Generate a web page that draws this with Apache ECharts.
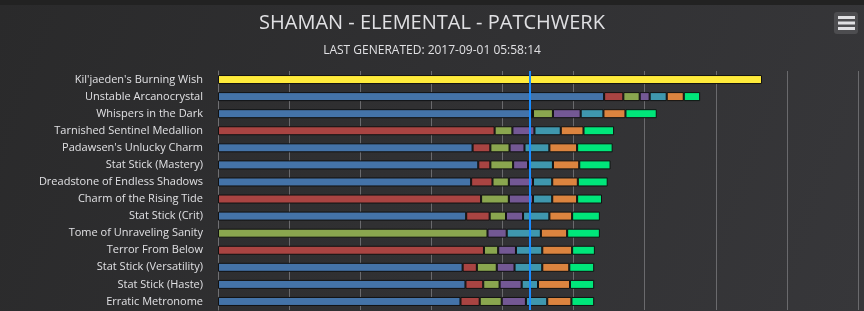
<!DOCTYPE html>
<html lang="en">

<head>
  <meta charset="UTF-8" />
  <title>Shaman - Elemental - Patchwerk</title>
  <style>
    * {
      padding: 0;
      margin: 0;
    }

    html,
    body {
      width: 100%;
      height: 100%;
      background: #2a2a2b;
    }

    #chart {
      width: 864px;
      height: 311px;
    }
  </style>
</head>

<body>
  <div id="chart"></div>
  <script src="https://cdn.jsdelivr.net/npm/echarts@6/dist/echarts.min.js"></script>
  <script>
    // trinkets, top to bottom
    var categories = [
      "Kil'jaeden's Burning Wish",
      'Unstable Arcanocrystal',
      'Whispers in the Dark',
      'Tarnished Sentinel Medallion',
      "Padawsen's Unlucky Charm",
      'Stat Stick (Mastery)',
      'Dreadstone of Endless Shadows',
      'Charm of the Rising Tide',
      'Stat Stick (Crit)',
      'Tome of Unraveling Sanity',
      'Terror From Below',
      'Stat Stick (Versatility)',
      'Stat Stick (Haste)',
      'Erratic Metronome'
    ]
    // dps gain per item level step (stacked)
    var legendary = [76500, null, null, null, null, null, null, null, null, null, null, null, null, null]
    var ilvl880 = [null, 54300, 44000, null, 35800, 36600, 35600, null, 34900, null, null, 34400, 34800, 34100]
    var ilvl890 = [null, 2700, 300, 38900, 2500, 1700, 3000, 37000, 3300, null, 37400, 2000, 2500, 2700]
    var ilvl900 = [null, 2300, 2800, 2500, 2700, 3200, 2300, 3900, 2300, 37900, 2000, 2800, 2300, 3100]
    var ilvl910 = [null, 1400, 3900, 3100, 2100, 2100, 3400, 3400, 2400, 2700, 2500, 2500, 3100, 3400]
    var ilvl920 = [null, 2400, 3200, 3700, 3500, 3500, 2700, 2700, 3700, 4800, 3700, 3900, 2300, 3000]
    var ilvl930 = [null, 2400, 3100, 3200, 3900, 3700, 3600, 3500, 3200, 3700, 4200, 3800, 4500, 3400]
    var ilvl940 = [null, 2300, 4400, 4300, 5000, 4400, 4200, 3500, 3900, 4600, 3200, 3500, 3400, 3200]
    var markerValue = 43800

    var seriesDefs = [
      { name: 'Legendary', data: legendary, color: '#ffeb3b' },
      { name: '880', data: ilvl880, color: '#4473a8' },
      { name: '890', data: ilvl890, color: '#a94442' },
      { name: '900', data: ilvl900, color: '#8aa64f' },
      { name: '910', data: ilvl910, color: '#735894' },
      { name: '920', data: ilvl920, color: '#3f97ae' },
      { name: '930', data: ilvl930, color: '#dc843f' },
      { name: '940', data: ilvl940, color: '#00e67a' }
    ]

    var series = seriesDefs.map(function (s, i) {
      var item = {
        name: s.name,
        type: 'bar',
        stack: 'dps',
        barWidth: 9,
        data: s.data,
        itemStyle: {
          color: s.color,
          borderColor: '#111',
          borderWidth: 1
        }
      }
      if (i === seriesDefs.length - 1) {
        item.markLine = {
          silent: true,
          symbol: 'none',
          label: { show: false },
          lineStyle: { color: '#1a8cff', width: 2, type: 'solid', opacity: 1 },
          data: [{ xAxis: markerValue }]
        }
      }
      return item
    })

    var myChart = echarts.init(document.getElementById('chart'))
    var option = {
      animation: false,
      backgroundColor: {
        type: 'linear', x: 0, y: 0, x2: 1, y2: 1,
        colorStops: [{ offset: 0, color: '#2a2a2b' }, { offset: 1, color: '#37373a' }]
      },
      title: [
        {
          text: 'SHAMAN - ELEMENTAL - PATCHWERK',
          left: 'center',
          top: 8,
          textStyle: { color: '#e0e0e3', fontSize: 20, fontWeight: 'normal', fontFamily: 'Open Sans' }
        },
        {
          text: 'LAST GENERATED: 2017-09-01 05:58:14',
          left: 'center',
          top: 40,
          textStyle: { color: '#e0e0e3', fontSize: 12, fontWeight: 'normal', fontFamily: 'Open Sans' }
        }
      ],
      graphic: [
        { type: 'rect', shape: { x: 0, y: 0, width: 864, height: 5 }, style: { fill: '#222' } },
        { type: 'rect', shape: { x: 834, y: 12, width: 24, height: 22, r: 3 }, style: { fill: '#4d4d50' } },
        { type: 'rect', shape: { x: 838, y: 16, width: 17, height: 3 }, style: { fill: '#e0e0e3' } },
        { type: 'rect', shape: { x: 838, y: 21.5, width: 17, height: 3 }, style: { fill: '#e0e0e3' } },
        { type: 'rect', shape: { x: 838, y: 27, width: 17, height: 3 }, style: { fill: '#e0e0e3' } }
      ],
      grid: {
        left: 218,
        right: 6,
        top: 71,
        height: 239
      },
      xAxis: {
        type: 'value',
        min: 0,
        max: 90000,
        interval: 10000,
        axisLabel: { show: false },
        axisLine: { show: false },
        axisTick: { show: false },
        splitLine: { lineStyle: { color: '#6a6a6d', width: 1 } }
      },
      yAxis: {
        type: 'category',
        inverse: true,
        data: categories,
        axisLine: { lineStyle: { color: '#707073' } },
        axisTick: { length: 10, lineStyle: { color: '#707073' } },
        axisLabel: { color: '#e0e0e3', fontSize: 11, fontFamily: 'Open Sans', margin: 15 }
      },
      series: series
    }
    myChart.setOption(option)
  </script>
</body>

</html>
